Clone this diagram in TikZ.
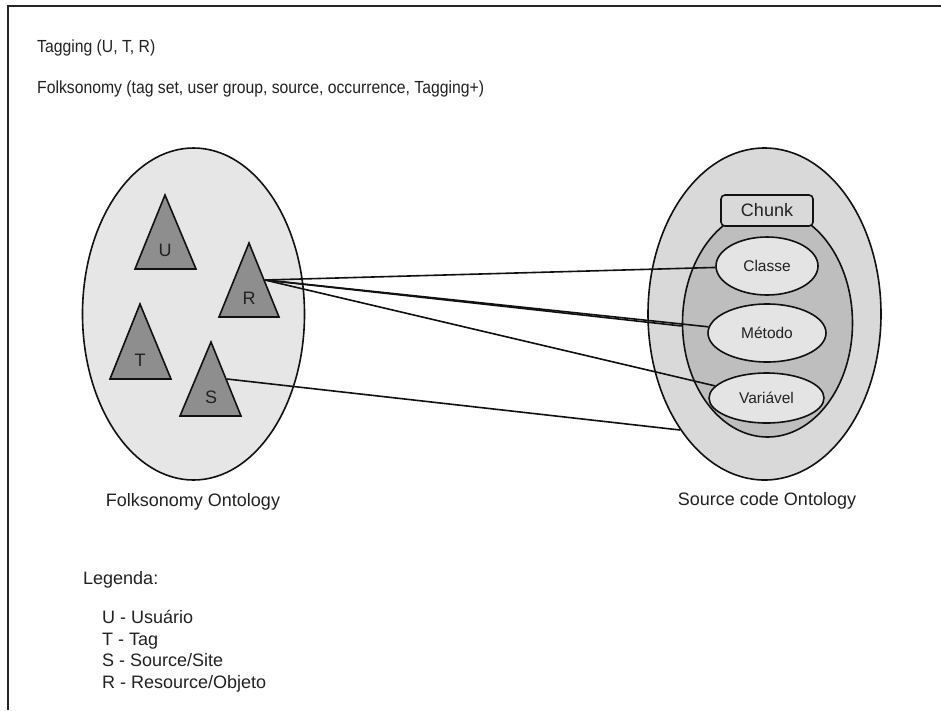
\documentclass[tikz,border=0pt]{standalone}
\usepackage{fontspec}
\setmainfont{Liberation Sans}
\usetikzlibrary{shapes.geometric}
\definecolor{ink}{HTML}{222222}
\definecolor{edge}{HTML}{111111}
\definecolor{folkfill}{HTML}{E6E6E6}
\definecolor{trifill}{HTML}{8E8E8E}
\definecolor{outerfill}{HTML}{D9D9D9}
\definecolor{innerfill}{HTML}{BEBEBE}
\definecolor{itemfill}{HTML}{E4E4E4}
\newcommand{\narrowtext}[1]{\scalebox{0.9}[1]{#1}}
\begin{document}
\begin{tikzpicture}[x=1pt,y=-1pt,
  txt/.style={font=\fontsize{18}{21}\selectfont, text=ink, inner sep=0pt},
  head/.style={font=\fontsize{17.5}{20}\selectfont, text=ink, inner sep=0pt},
  small/.style={font=\fontsize{15.5}{18}\selectfont, text=ink},
  oval/.style={ellipse, draw=edge, line width=1.6pt, inner sep=0pt},
  tri/.style={draw=edge, fill=trifill, line width=1.6pt},
  link/.style={draw=edge, line width=1.6pt}
]
\useasboundingbox (0,0) rectangle (941,710);
\fill[white] (0,0) rectangle (941,710);

% page frame (only top and left edges fall inside the page)
\draw[line width=2pt, draw=black!85] (8,710) -- (8,6) -- (941,6);

% header text
\node[head, anchor=base west] (tagging) at (37,52.5) {\narrowtext{Tagging (U, T, R)}};
\node[head, anchor=base west] (folksdef) at (37,93.5) {\narrowtext{Folksonomy (tag set, user group, source, occurrence, Tagging+)}};

% folksonomy ontology
\node[oval, fill=folkfill, minimum width=222pt, minimum height=332pt] (folk) at (193.5,314) {};
\draw[tri] (165,195) -- (135,269) -- (196,269) -- cycle;
\draw[tri] (249,243) -- (219,317) -- (279,317) -- cycle;
\draw[tri] (140,304) -- (110,379) -- (171,379) -- cycle;
\draw[tri] (211,342) -- (180,416) -- (241,416) -- cycle;
\node[txt] (U) at (165,250) {U};
\node[txt] (R) at (249,298) {R};
\node[txt] (T) at (140,360) {T};
\node[txt] (S) at (211,397) {S};
\coordinate (rport) at (265,280);
\coordinate (sport) at (227,379);

% source code ontology
\node[oval, fill=outerfill, minimum width=233pt, minimum height=332pt] (outer) at (764.5,314) {};
\node[oval, fill=innerfill, minimum width=170pt, minimum height=228pt] (inner) at (767.5,323) {};
\node[draw=edge, line width=1.6pt, fill=outerfill, rounded corners=4pt,
      minimum width=92pt, minimum height=31pt, inner sep=0pt,
      font=\fontsize{18}{21}\selectfont, text=ink] (chunk) at (767,210.5) {Chunk};
\node[oval, small, fill=itemfill, minimum width=102pt, minimum height=58pt] (classe) at (767,266) {Classe};
\node[oval, small, fill=itemfill, minimum width=118pt, minimum height=58pt] (metodo) at (767,333) {Método};
\node[oval, small, fill=itemfill, minimum width=115pt, minimum height=50pt] (variavel) at (766.5,398) {Variável};

% mappings between the ontologies
\draw[link] (rport) -- (classe);
\draw[link] (rport) -- (inner.182);
\draw[link] (rport) -- (metodo);
\draw[link] (rport) -- (variavel);
\draw[link] (sport) -- (outer.234);

% captions
\node[txt] (folkcap) at (193,502) {Folksonomy Ontology};
\node[txt] (srccap) at (767,501) {Source code Ontology};

% legend
\node[txt, anchor=base west] (legtitle) at (83,584) {Legenda:};
\node[txt, anchor=base west] (legU) at (102,623.5) {U - Usuário};
\node[txt, anchor=base west] (legT) at (102,645) {T - Tag};
\node[txt, anchor=base west] (legS) at (102,666.5) {S - Source/Site};
\node[txt, anchor=base west] (legR) at (102,688) {R - Resource/Objeto};
\end{tikzpicture}
\end{document}
